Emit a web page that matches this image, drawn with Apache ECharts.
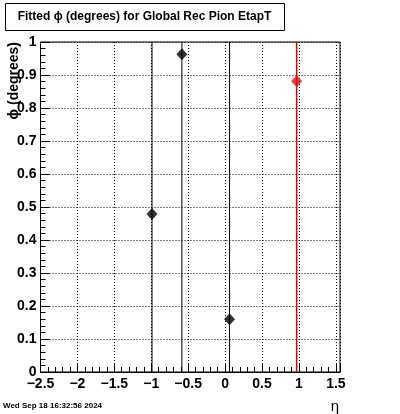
<!DOCTYPE html>
<html><head><meta charset="utf-8">
<script src="https://cdn.jsdelivr.net/npm/echarts@6/dist/echarts.min.js"></script>
<style>html,body{margin:0;padding:0;background:#fff}#c{width:400px;height:414px}</style>
</head><body><div id="c"></div>
<script>
// data
const blackEta = [-0.99, -0.585, 0.06];
const blackPhi = [0.479, 0.963, 0.16];
const blackErr = [1.5, 1.5, 1.5];
const redEta = [0.969];
const redPhi = [0.881];
const redErr = [1.5];
// axes
const xRange = [-2.5, 1.556];
const xMajor = 0.5;
const xMinor = 0.1;
const yRange = [0, 1];
const yMajor = 0.1;
const titleText = 'Fitted ϕ (degrees) for Global Rec Pion EtapT';
const yTitle = 'ϕ (degrees)';
const xTitle = 'η';
const dateText = 'Wed Sep 18 16:32:56 2024';

const FONT = 'Liberation Sans, Arial, sans-serif';
const chart = echarts.init(document.getElementById('c'), null, {renderer: 'canvas'});

function fmtX(v) {
  const k = Math.round(v / xMajor);
  if (Math.abs(k * xMajor - v) > 1e-6) return '';
  const s = String(+(k * xMajor).toFixed(2));
  return s.replace('-', '\u2212');
}
function fmtY(v) { return String(+v.toFixed(2)); }

function errSeries(eta, phi, err, color, w) {
  return {
    type: 'custom', xAxisIndex: 0, yAxisIndex: 0, clip: true, silent: true,
    data: eta.map((x, i) => [x, phi[i], err[i]]),
    renderItem: function (params, api) {
      const x = api.value(0), y = api.value(1), e = api.value(2);
      const p1 = api.coord([x, y - e]);
      const p2 = api.coord([x, y + e]);
      return {type: 'line', shape: {x1: p1[0], y1: p1[1], x2: p2[0], y2: p2[1]},
        style: {stroke: color, lineWidth: w}};
    }
  };
}
function ptSeries(eta, phi, color) {
  return {
    type: 'scatter', xAxisIndex: 0, yAxisIndex: 0, symbol: 'diamond', symbolSize: [11, 12],
    itemStyle: {color: color}, silent: true, z: 5,
    data: eta.map((x, i) => [x, phi[i]])
  };
}

chart.setOption({
  animation: false,
  backgroundColor: '#fff',
  grid: {left: 40.5, right: 60, top: 42, bottom: 42, show: true, borderColor: '#000', borderWidth: 1, backgroundColor: 'transparent'},
  xAxis: [{
    type: 'value', min: xRange[0], max: xRange[1], interval: xMajor, position: 'bottom',
    axisLine: {show: true, onZero: false, lineStyle: {color: '#000', width: 1}},
    axisTick: {show: true, inside: true, length: 9, lineStyle: {color: '#000'}},
    splitLine: {show: true, lineStyle: {color: '#000', type: [1, 2], width: 1}},
    axisLabel: {formatter: fmtX, color: '#000', fontFamily: FONT, fontWeight: 'bold', fontSize: 14, margin: 5, showMaxLabel: true, hideOverlap: false}
  }, {
    type: 'value', min: xRange[0], max: xRange[1], interval: xMinor, position: 'bottom', gridIndex: 0,
    axisLine: {show: false, onZero: false},
    axisTick: {show: true, inside: true, length: 5, lineStyle: {color: '#000'}},
    splitLine: {show: false}, axisLabel: {show: false}
  }],
  yAxis: [{
    type: 'value', min: yRange[0], max: yRange[1], interval: yMajor,
    axisLine: {show: true, onZero: false, lineStyle: {color: '#000', width: 1}},
    axisTick: {show: true, inside: true, length: 9, lineStyle: {color: '#000'}},
    minorTick: {show: true, splitNumber: 5, length: 5, lineStyle: {color: '#000'}},
    splitLine: {show: true, lineStyle: {color: '#000', type: [1, 2], width: 1}},
    axisLabel: {formatter: fmtY, color: '#000', fontFamily: FONT, fontWeight: 'bold', fontSize: 14, margin: 4, showMinLabel: true, showMaxLabel: true}
  }],
  graphic: [
    {type: 'rect', left: 5, top: 3, shape: {width: 279, height: 27}, style: {fill: '#fff', stroke: '#000', lineWidth: 1}, z: 10},
    {type: 'text', x: 144.5, y: 17, z: 11, style: {text: titleText, fill: '#000', font: 'bold 12px ' + FONT, align: 'center', verticalAlign: 'middle'}},
    {type: 'text', x: 14, y: 42, rotation: Math.PI / 2, z: 11, style: {text: yTitle, fill: '#000', font: 'bold 14px ' + FONT, align: 'right', verticalAlign: 'middle'}},
    {type: 'text', x: 335, y: 407, z: 11, style: {text: xTitle, fill: '#000', font: '15px ' + FONT, align: 'center', verticalAlign: 'middle'}},
    {type: 'text', x: 3, y: 406, z: 11, style: {text: dateText, fill: '#000', font: 'bold 8px ' + FONT, align: 'left', verticalAlign: 'middle'}}
  ],
  series: [
    errSeries(blackEta, blackPhi, blackErr, '#000', 1),
    errSeries(redEta, redPhi, redErr, '#e00000', 1.5),
    ptSeries(blackEta, blackPhi, '#000'),
    ptSeries(redEta, redPhi, '#ff0000')
  ]
});
</script></body></html>
